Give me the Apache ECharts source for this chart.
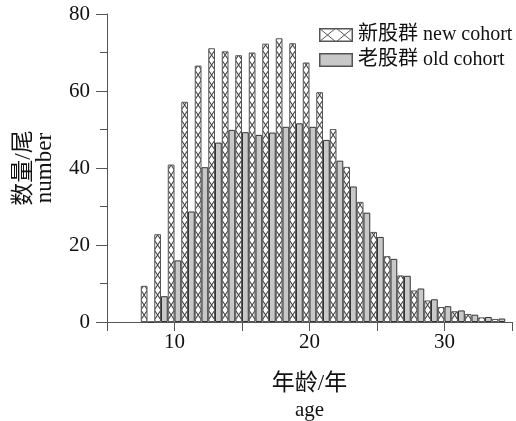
<!DOCTYPE html>
<html>
<head>
<meta charset="utf-8">
<script src="https://cdn.jsdelivr.net/npm/echarts@6/dist/echarts.min.js"></script>
<style>
  html, body { margin: 0; padding: 0; background: #fff; }
  #chart { width: 516px; height: 421px; }
</style>
</head>
<body>
<div id="chart"></div>
<script>
  // ages (years) and fish counts
  var ages = [8, 9, 10, 11, 12, 13, 14, 15, 16, 17, 18, 19, 20, 21, 22, 23, 24, 25, 26, 27, 28, 29, 30, 31, 32, 33, 34];
  var newCohort = [9.4, 22.8, 40.9, 57.2, 66.6, 71.1, 70.3, 69.3, 70.0, 72.3, 73.7, 72.4, 67.4, 59.7, 50.1, 40.3, 31.2, 23.4, 17.1, 12.1, 8.2, 5.6, 3.9, 2.8, 2.1, 1.2, 0.8];
  var oldCohort = [0, 6.7, 16.0, 28.7, 40.2, 46.6, 49.9, 49.3, 48.6, 49.2, 50.7, 51.6, 50.7, 47.3, 41.9, 35.2, 28.4, 22.1, 16.4, 12.0, 8.7, 5.9, 4.1, 3.0, 1.9, 1.3, 0.9];
  var xTickLabels = [10, 20, 30];

  var FONT = '"Liberation Serif", "Noto Sans CJK SC", serif';
  var GRAY = '#c8c8c8';

  // cross hatch for the new cohort bars (period = two bars wide)
  function hatchPattern() {
    var c = document.createElement('canvas');
    c.width = 27; c.height = 10;
    var ctx = c.getContext('2d');
    ctx.fillStyle = '#fff';
    ctx.fillRect(0, 0, 27, 10);
    ctx.strokeStyle = '#444';
    ctx.lineWidth = 1.1;
    [5.75, 19.25].forEach(function (s) {
      ctx.beginPath();
      ctx.moveTo(s, 0); ctx.lineTo(s + 6.75, 10);
      ctx.moveTo(s + 6.75, 0); ctx.lineTo(s, 10);
      ctx.stroke();
    });
    return c;
  }

  function legendIcon(hatched) {
    var c = document.createElement('canvas');
    c.width = 34; c.height = 14;
    var ctx = c.getContext('2d');
    ctx.fillStyle = hatched ? '#fff' : GRAY;
    ctx.fillRect(0, 0, 34, 14);
    ctx.strokeStyle = '#555';
    ctx.lineWidth = 1;
    if (hatched) {
      ctx.beginPath();
      ctx.moveTo(0, 0); ctx.lineTo(17, 14);
      ctx.moveTo(17, 0); ctx.lineTo(0, 14);
      ctx.moveTo(17, 0); ctx.lineTo(34, 14);
      ctx.moveTo(34, 0); ctx.lineTo(17, 14);
      ctx.stroke();
    }
    ctx.lineWidth = 1.5;
    ctx.strokeRect(0.75, 0.75, 32.5, 12.5);
    return 'image://' + c.toDataURL();
  }

  var myChart = echarts.init(document.getElementById('chart'));
  myChart.setOption({
    animation: false,
    textStyle: { fontFamily: FONT },
    grid: { left: 107, top: 14, width: 405, height: 308, outerBoundsMode: 'none' },
    legend: {
      orient: 'vertical',
      left: 319,
      top: 25,
      padding: 0,
      itemWidth: 34,
      itemHeight: 14,
      itemGap: 5,
      selectedMode: false,
      textStyle: { fontFamily: FONT, fontSize: 20, color: '#111', lineHeight: 20 },
      data: [
        { name: '新股群 new cohort', icon: legendIcon(true) },
        { name: '老股群 old cohort', icon: legendIcon(false) }
      ]
    },
    xAxis: {
      type: 'value',
      min: 5,
      max: 35,
      interval: 5,
      name: '{c|年龄/年}\n{e|age}',
      nameLocation: 'middle',
      nameGap: 48,
      nameTextStyle: {
        color: '#111',
        rich: {
          c: { fontFamily: FONT, fontSize: 23, lineHeight: 28, color: '#111' },
          e: { fontFamily: FONT, fontSize: 21, lineHeight: 24, color: '#111' }
        }
      },
      axisLine: { lineStyle: { color: '#555', width: 1 } },
      axisTick: { length: 9, lineStyle: { color: '#555' } },
      axisLabel: {
        fontSize: 21,
        color: '#111',
        margin: 10,
        formatter: function (v) { return xTickLabels.indexOf(v) >= 0 ? String(v) : ''; }
      },
      splitLine: { show: false }
    },
    yAxis: {
      type: 'value',
      min: 0,
      max: 80,
      interval: 20,
      name: '数量/尾\nnumber',
      nameLocation: 'middle',
      nameRotate: 90,
      nameGap: 52,
      nameTextStyle: { fontFamily: FONT, fontSize: 23, lineHeight: 21, color: '#111' },
      axisLine: { show: true, lineStyle: { color: '#555', width: 1 } },
      axisTick: { show: true, length: 11, lineStyle: { color: '#555' } },
      minorTick: { show: true, splitNumber: 2, length: 7, lineStyle: { color: '#555' } },
      axisLabel: { fontSize: 21, color: '#111', margin: 17 },
      splitLine: { show: false }
    },
    series: [
      {
        name: '新股群 new cohort',
        type: 'bar',
        barWidth: 6.75,
        barGap: '0%',
        itemStyle: {
          color: { image: hatchPattern(), repeat: 'repeat' },
          borderColor: '#555',
          borderWidth: 1
        },
        data: ages.map(function (a, i) { return [a, newCohort[i]]; })
      },
      {
        name: '老股群 old cohort',
        type: 'bar',
        barWidth: 6.75,
        barGap: '0%',
        itemStyle: { color: GRAY, borderColor: '#333', borderWidth: 1 },
        data: ages.map(function (a, i) { return [a, oldCohort[i]]; })
      }
    ]
  });
</script>
</body>
</html>
